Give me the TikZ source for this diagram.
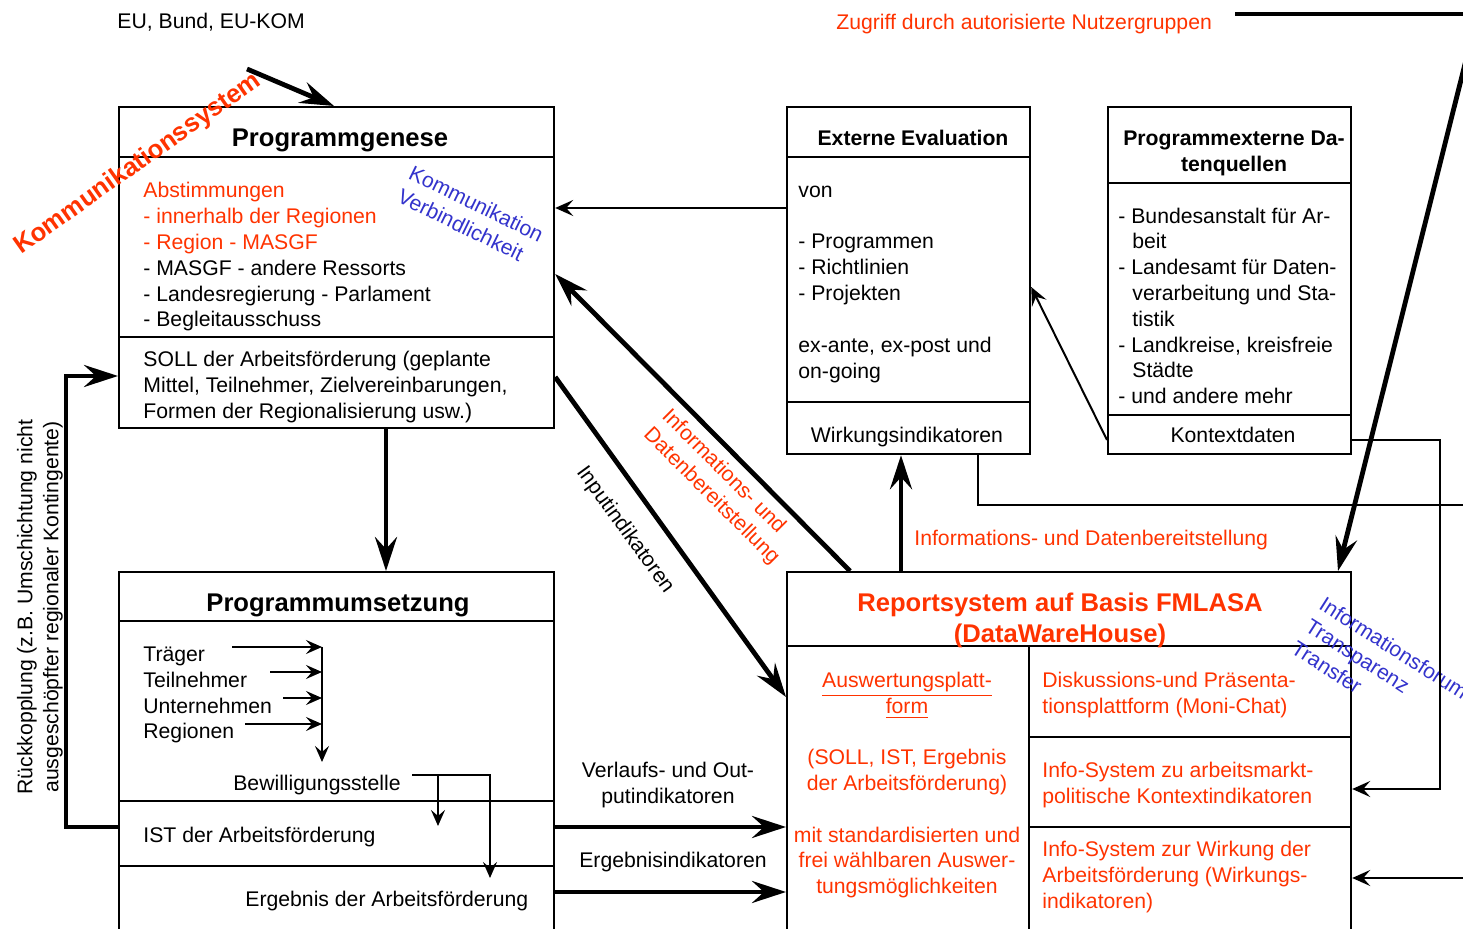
\documentclass[tikz,border=0pt]{standalone}
\usepackage{fontspec}
\setmainfont{Liberation Sans}
\usetikzlibrary{arrows.meta}
\definecolor{accent}{RGB}{255,51,0}
\definecolor{note}{RGB}{51,51,204}
\newcommand\normalfs{\fontsize{10.6}{13}\selectfont}
\newcommand\titlefs{\fontsize{12.8}{15.5}\selectfont\bfseries}

\begin{document}
\begin{tikzpicture}[x=0.5pt,y=-0.5pt,
  frame/.style={draw, line width=1.1pt, inner sep=0pt, anchor=north west},
  rule/.style={line width=1.1pt},
  txt/.style={inner sep=0pt, anchor=base west, font=\normalfs},
  ctxt/.style={inner sep=0pt, anchor=base, font=\normalfs},
  ttl/.style={inner sep=0pt, anchor=base, font=\titlefs},
  thin line/.style={line width=1pt},
  thin arrow/.style={line width=1pt, -{Stealth[length=9pt,width=8pt,inset=3.5pt]}},
  small arrow/.style={line width=1pt, -{Stealth[length=8pt,width=7pt,inset=3pt]}},
  thick line/.style={line width=2.4pt},
  thick arrow/.style={line width=2.4pt, -{Stealth[length=17pt,width=11pt,inset=6pt]}},
]
\clip (0,0) rectangle (1463,929);

% ---------- boxes ----------
\node[frame, minimum width=217.5pt, minimum height=160.5pt] (pg) at (118,106) {};
\node[frame, minimum width=217.5pt, minimum height=184.5pt] (pu) at (118,571) {};
\node[frame, minimum width=121.5pt, minimum height=173.5pt] (ee) at (786,106) {};
\node[frame, minimum width=121.5pt, minimum height=173.5pt] (dq) at (1107,106) {};
\node[frame, minimum width=282pt,   minimum height=184.5pt] (rs) at (786,571) {};

% section rules
\draw[rule] (pg.west |- 0,157) -- (pg.east |- 0,157);
\draw[rule] (pg.west |- 0,337) -- (pg.east |- 0,337);
\draw[rule] (pu.west |- 0,621) -- (pu.east |- 0,621);
\draw[rule] (pu.west |- 0,801) -- (pu.east |- 0,801);
\draw[rule] (pu.west |- 0,866) -- (pu.east |- 0,866);
\draw[rule] (ee.west |- 0,157) -- (ee.east |- 0,157);
\draw[rule] (ee.west |- 0,402) -- (ee.east |- 0,402);
\draw[rule] (dq.west |- 0,183) -- (dq.east |- 0,183);
\draw[rule] (dq.west |- 0,415) -- (dq.east |- 0,415);
\draw[rule] (rs.west |- 0,646) -- (rs.east |- 0,646);
\coordinate (rs-split) at (1029,646);
\draw[rule] (rs-split) -- (rs.south -| rs-split);
\draw[rule] (rs-split |- 0,737) -- (rs.east |- 0,737);
\draw[rule] (rs-split |- 0,827) -- (rs.east |- 0,827);

% ---------- Programmgenese ----------
\node[ttl] (pg-title) at (340,147) {Programmgenese};
\foreach \t [count=\i from 0] in {{\color{accent}Abstimmungen},{\color{accent}- innerhalb der Regionen},{\color{accent}- Region - MASGF},{- MASGF - andere Ressorts},{- Landesregierung - Parlament},{- Begleitausschuss}}
  \node[txt] (pg-l\i) at (143,198+25.8*\i) {\t};
\foreach \t [count=\i from 0] in {{SOLL der Arbeitsförderung (geplante},{Mittel, Teilnehmer, Zielvereinbarungen,},{Formen der Regionalisierung usw.)}}
  \node[txt] (soll-l\i) at (143,367+26*\i) {\t};
\node[inner sep=0pt, anchor=north west, align=left, rotate=-26, text=note, font=\normalfs] (kv) at (414,164) {Kommunikation\\Verbindlichkeit};
\node[inner sep=0pt, rotate=35.3, text=accent, font=\titlefs] (ksys) at (138,164) {Kommunikationssystem};

% ---------- EU ----------
\node[txt] (eu) at (117,29) {EU, Bund, EU-KOM};
\coordinate (eu-a) at (247,69);
\draw[thick arrow] (eu-a) -- (pg.north -| 334,0);

% ---------- Programmumsetzung ----------
\node[ttl] (pu-title) at (338,612) {Programmumsetzung};
\foreach \t/\y [count=\i from 0] in {{Träger}/662,{Teilnehmer}/688,{Unternehmen}/714,{Regionen}/739}
  \node[txt] (pu-l\i) at (143,\y) {\t};
\coordinate (bus) at (322,647);
\coordinate (bus-end) at (322,762);
\coordinate (a1) at (232,647);
\coordinate (a2) at (270,672);
\coordinate (a3) at (283,698);
\coordinate (a4) at (245,724);
\draw[small arrow] (a1) -- (a1 -| bus);
\draw[small arrow] (a2) -- (a2 -| bus);
\draw[small arrow] (a3) -- (a3 -| bus);
\draw[small arrow] (a4) -- (a4 -| bus);
\draw[small arrow] (bus) -- (bus-end);
\node[ctxt] (bew) at (317,791) {Bewilligungsstelle};
\coordinate (bw-a) at (412,775);
\coordinate (bw-b) at (438,775);
\coordinate (bw-c) at (490,775);
\draw[small arrow] (bw-a) -- (bw-c) -- (490,878);
\draw[small arrow] (bw-b) -- (438,826);
\node[txt] (ist) at (143,843) {IST der Arbeitsförderung};
\node[txt] (erg) at (245,907) {Ergebnis der Arbeitsförderung};

% flow between the two left boxes
\draw[thick arrow] (pg.south -| 386,0) -- (pu.north -| 386,0);

% feedback loop
\coordinate (fb-low) at (66,827);
\coordinate (fb-high) at (66,376);
\draw[thick arrow] (pu.west |- fb-low) -- (fb-low) -- (fb-high) -- (pg.west |- fb-high);
\node[inner sep=0pt, rotate=90, align=center, font=\normalfs] (rk) at (40,607) {Rückkopplung (z.B. Umschichtung nicht\\ausgeschöpfter regionaler Kontingente)};

% ---------- Externe Evaluation ----------
\node[ctxt, font=\normalfs\bfseries] (ee-title) at (913,146) {Externe Evaluation};
\foreach \y/\t in {198/{von},249/{- Programmen},275/{- Richtlinien},301/{- Projekten},353/{ex-ante, ex-post und},379/{on-going}}
  \node[txt] (ee-\y) at (798,\y) {\t};
\node[ctxt] (wirk) at (907,443) {Wirkungsindikatoren};

% ---------- Programmexterne Datenquellen (base = last line) ----------
\node[ctxt, font=\normalfs\bfseries, align=center] (dq-title) at (1234,172) {Programmexterne Da-\\tenquellen};
\foreach \x/\y/\t in {1118/224/{- Bundesanstalt für Ar-},1132/249/{beit},1118/275/{- Landesamt für Daten-},1132/301/{verarbeitung und Sta-},1132/327/{tistik},1118/353/{- Landkreise, kreisfreie},1132/378/{Städte},1118/404/{- und andere mehr}}
  \node[txt] (dq-\y) at (\x,\y) {\t};
\node[ctxt] (kontext) at (1233,443) {Kontextdaten};

% ---------- Reportsystem ----------
\node[ttl, text=accent, align=center] (rs-title) at (1060,643) {Reportsystem auf Basis FMLASA\\(DataWareHouse)};
\foreach \y/\t in {688/{\underline{Auswertungsplatt-}},714/{\underline{form}},765/{(SOLL, IST, Ergebnis},791/{der Arbeitsförderung)},843/{mit standardisierten und},868/{frei wählbaren Auswer-},894/{tungsmöglichkeiten}}
  \node[ctxt, text=accent] (rsl-\y) at (907,\y) {\t};
\foreach \y/\t in {688/{Diskussions-und Präsenta-},714/{tionsplattform (Moni-Chat)},778/{Info-System zu arbeitsmarkt-},804/{politische Kontextindikatoren},857/{Info-System zur Wirkung der},883/{Arbeitsförderung (Wirkungs-},909/{indikatoren)}}
  \node[txt, text=accent] (rsr-\y) at (1042,\y) {\t};
\node[inner sep=0pt, anchor=north west, align=left, rotate=-32.5, text=note, font=\normalfs] (itt) at (1326,595) {Informationsforum\\Transparenz\\Transfer};

% ---------- connectors ----------
\draw[thin arrow] (ee.west |- 0,208) -- (pg.east |- 0,208);
\draw[thick arrow] (rs.north -| 850,0) -- (pg.east |- 0,274);
\node[inner sep=0pt, anchor=north west, align=left, rotate=-45, text=accent, font=\normalfs] (idb) at (672,406) {Informations- und\\Datenbereitstellung};
\draw[thick arrow] (pg.east |- 0,377) -- (rs.west |- 0,697);
\node[inner sep=0pt, rotate=-54, font=\normalfs] (inp) at (625,530) {Inputindikatoren};
\draw[thick arrow] (rs.north -| 901,0) -- (ee.south -| 901,0);
\node[txt, text=accent] (idb2) at (914,546) {Informations- und Datenbereitstellung};

\draw[thin arrow] (dq.west |- 0,440) -- (ee.east |- 0,287);
\coordinate (ctx-r) at (1440,440);
\coordinate (ctx-d) at (1440,789);
\draw[thin arrow] (dq.east |- ctx-r) -- (ctx-r) -- (ctx-d) -- (rs.east |- ctx-d);
\coordinate (wk-d) at (978,505);
\coordinate (wk-far) at (1475,505);
\draw[thin line] (ee.south -| wk-d) -- (wk-d) -- (wk-far);
\coordinate (edge-in) at (1475,878);
\draw[thin arrow] (edge-in) -- (rs.east |- edge-in);

\draw[thick arrow] (pu.east |- 0,827) -- (rs.west |- 0,827);
\draw[thick arrow] (pu.east |- 0,892) -- (rs.west |- 0,892);
\node[ctxt, align=center] (vo) at (668,804) {Verlaufs- und Out-\\putindikatoren};
\node[ctxt] (ei) at (673,868) {Ergebnisindikatoren};

% access from the top right
\node[txt, text=accent] (zug) at (836,30) {Zugriff durch autorisierte Nutzergruppen};
\coordinate (zg-a) at (1235,14);
\coordinate (zg-b) at (1490,14);
\draw[thick line] (zg-a) -- (zg-b);
\coordinate (diag-far) at (1481,0);
\draw[thick arrow] (diag-far) -- (rs.north -| 1338,0);
\end{tikzpicture}
\end{document}
